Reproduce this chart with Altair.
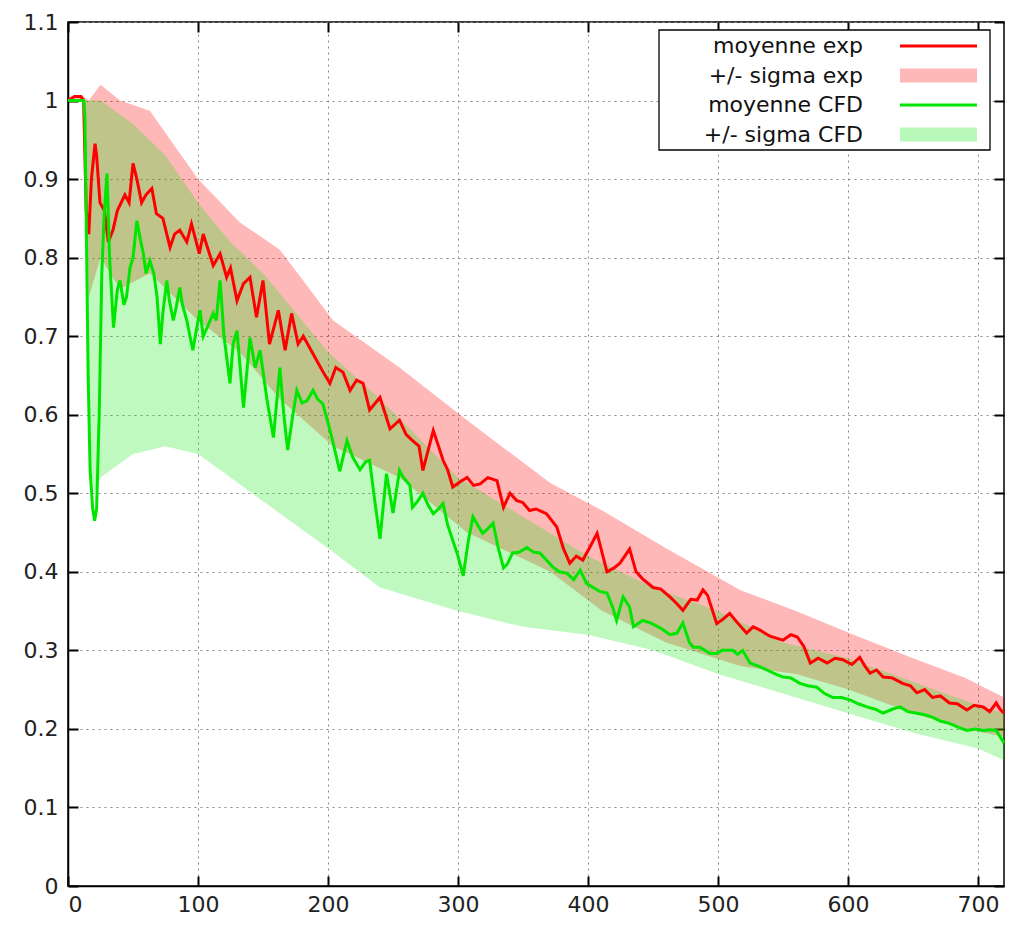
import altair as alt
import pandas as pd

# ---------------- data ----------------
exp_x = [0, 5, 10, 12, 14, 16, 18, 20.8, 22, 24.6, 28, 31, 34.6, 38, 43.8, 47, 50, 53, 56.6, 60,
         64.5, 68, 73, 78.5, 82, 86, 91.4, 95, 101, 104, 111.7, 117, 122, 125, 130, 135, 140, 145,
         150, 155, 161.8, 167, 172, 177, 181, 186, 191, 196, 201.5, 206, 211.5, 217, 222, 227, 232,
         240, 247.7, 255, 260, 265, 270, 273, 281, 285, 288.5, 292, 296, 302, 307, 312, 317, 323,
         330, 335, 340, 345, 350, 355, 360, 368, 376, 381, 386, 391, 396, 401, 407, 414.6, 420,
         424.6, 432, 437, 442, 450, 456, 463, 468, 473, 479, 484, 488.5, 492, 499, 504, 509, 515,
         522, 527, 532, 540, 550, 556, 561, 566, 571, 577, 584, 590, 596, 603, 609, 613, 617, 622,
         627, 634, 642, 648, 653, 659, 665, 671, 678, 684, 691.5, 697, 704, 709, 714, 717, 720]
exp_mean = [1.0, 1.005, 1.005, 1.0, 0.86, 0.83, 0.90, 0.945, 0.93, 0.87, 0.86, 0.82, 0.835, 0.86,
            0.88, 0.87, 0.92, 0.90, 0.87, 0.88, 0.888, 0.856, 0.85, 0.813, 0.83, 0.835, 0.82, 0.843,
            0.805, 0.83, 0.79, 0.805, 0.775, 0.787, 0.745, 0.767, 0.775, 0.724, 0.771, 0.69, 0.733,
            0.682, 0.729, 0.69, 0.70, 0.685, 0.67, 0.655, 0.64, 0.66, 0.654, 0.631, 0.644, 0.64,
            0.606, 0.622, 0.582, 0.593, 0.575, 0.567, 0.56, 0.529, 0.58, 0.56, 0.542, 0.53, 0.508,
            0.515, 0.52, 0.51, 0.512, 0.52, 0.516, 0.482, 0.50, 0.491, 0.488, 0.478, 0.48, 0.474,
            0.457, 0.43, 0.411, 0.42, 0.415, 0.43, 0.449, 0.40, 0.405, 0.411, 0.429, 0.40, 0.391,
            0.38, 0.378, 0.368, 0.36, 0.351, 0.365, 0.364, 0.377, 0.37, 0.334, 0.34, 0.347, 0.335,
            0.322, 0.33, 0.326, 0.318, 0.313, 0.32, 0.317, 0.305, 0.284, 0.29, 0.284, 0.29, 0.288,
            0.282, 0.291, 0.28, 0.271, 0.275, 0.266, 0.265, 0.258, 0.255, 0.246, 0.25, 0.24, 0.242,
            0.233, 0.232, 0.224, 0.23, 0.228, 0.222, 0.233, 0.225, 0.22]

cfd_x = [0, 12, 13, 14, 15.5, 17, 19, 20.5, 22, 24, 26, 28, 30, 32, 35, 38, 40, 43, 45, 47.7, 50,
         53, 56, 58, 60, 63, 66, 68.5, 71, 73, 76, 78, 81, 83, 86, 88, 91.4, 96, 99, 101.5, 104,
         107, 111.7, 114, 117, 120, 124.6, 127, 130, 135, 140, 144, 147.7, 153, 158, 163, 166, 169,
         173, 176, 180, 184, 188.5, 192, 196, 200, 204, 209, 214.6, 219, 224.6, 229, 232, 236, 240,
         245, 250, 255, 258, 263, 265, 269, 273, 277, 281, 285, 288.5, 292, 296, 300, 304, 308,
         311.5, 315, 319, 323, 327, 331, 335, 338, 342, 347, 353, 358, 363, 368, 373, 378, 384,
         389, 394, 399, 404, 409, 414.6, 419, 422, 427, 432, 435, 442, 448, 454, 458, 463, 468.5,
         473, 478, 481, 486, 490, 494, 499, 503, 507, 511.5, 515, 519, 524.6, 531, 537.7, 544, 550,
         556, 563, 569, 576, 582, 588.5, 595, 601.5, 608, 614.6, 621, 627, 634, 640, 646, 653, 659,
         665, 671, 678, 685, 691.5, 698, 704, 709, 714, 717, 720]
cfd_mean = [1.0, 1.0, 0.98, 0.85, 0.65, 0.53, 0.48, 0.465, 0.48, 0.60, 0.78, 0.86, 0.907, 0.80,
            0.711, 0.76, 0.771, 0.74, 0.75, 0.787, 0.80, 0.847, 0.82, 0.805, 0.78, 0.796, 0.78,
            0.75, 0.69, 0.73, 0.771, 0.745, 0.72, 0.735, 0.762, 0.74, 0.72, 0.682, 0.71, 0.733,
            0.70, 0.711, 0.729, 0.72, 0.771, 0.70, 0.64, 0.69, 0.707, 0.609, 0.698, 0.66, 0.682,
            0.62, 0.571, 0.66, 0.60, 0.555, 0.60, 0.631, 0.615, 0.618, 0.631, 0.62, 0.614, 0.59,
            0.564, 0.528, 0.567, 0.546, 0.53, 0.54, 0.542, 0.49, 0.442, 0.525, 0.475, 0.529, 0.52,
            0.51, 0.482, 0.49, 0.50, 0.485, 0.474, 0.48, 0.487, 0.46, 0.44, 0.42, 0.395, 0.44, 0.47,
            0.46, 0.449, 0.455, 0.462, 0.43, 0.405, 0.41, 0.424, 0.425, 0.431, 0.425, 0.424, 0.415,
            0.406, 0.40, 0.398, 0.39, 0.402, 0.385, 0.38, 0.375, 0.373, 0.355, 0.338, 0.368, 0.355,
            0.33, 0.338, 0.335, 0.33, 0.326, 0.32, 0.322, 0.335, 0.31, 0.304, 0.304, 0.30, 0.296,
            0.296, 0.30, 0.30, 0.30, 0.295, 0.30, 0.284, 0.28, 0.275, 0.27, 0.266, 0.265, 0.258,
            0.255, 0.253, 0.245, 0.24, 0.24, 0.237, 0.232, 0.228, 0.225, 0.22, 0.225, 0.228, 0.222,
            0.22, 0.218, 0.215, 0.21, 0.207, 0.202, 0.198, 0.20, 0.198, 0.199, 0.198, 0.19, 0.182]

exp_band_x = [0, 12, 16, 25, 40, 63, 100, 132, 163, 204, 255, 307, 371, 411, 460, 517, 560, 601,
              650, 690, 720]
exp_band_hi = [1.005, 1.005, 1.0, 1.02, 1.0, 0.987, 0.90, 0.845, 0.81, 0.72, 0.66, 0.593, 0.513,
               0.478, 0.43, 0.377, 0.35, 0.322, 0.29, 0.265, 0.24]
exp_band_lo = [1.005, 1.0, 0.75, 0.80, 0.76, 0.78, 0.72, 0.68, 0.62, 0.56, 0.52, 0.45, 0.40, 0.35,
               0.31, 0.28, 0.27, 0.25, 0.22, 0.20, 0.19]

cfd_band_x = [0, 12, 16, 20, 25, 50, 75, 100, 125, 150, 175, 200, 240, 300, 350, 400, 450, 500,
              550, 600, 650, 700, 720]
cfd_band_hi = [1.0, 1.0, 1.0, 1.0, 1.0, 0.97, 0.93, 0.87, 0.82, 0.78, 0.73, 0.68, 0.62, 0.52,
               0.47, 0.42, 0.38, 0.35, 0.31, 0.29, 0.26, 0.23, 0.22]
cfd_band_lo = [1.0, 1.0, 0.55, 0.50, 0.52, 0.55, 0.56, 0.55, 0.52, 0.49, 0.46, 0.43, 0.38, 0.35,
               0.33, 0.32, 0.30, 0.27, 0.245, 0.22, 0.195, 0.175, 0.16]

legend_labels = ["moyenne exp", "+/- sigma exp", "moyenne CFD", "+/- sigma CFD"]
legend_kind = ["line", "band", "line", "band"]
x_ticks = [0, 100, 200, 300, 400, 500, 600, 700]
y_ticks = [0, 0.1, 0.2, 0.3, 0.4, 0.5, 0.6, 0.7, 0.8, 0.9, 1.0, 1.1]

# ---------------- styling ----------------
RED = "#ff0000"
GREEN = "#00e600"
FONT = "DejaVu Sans"
FS = 22
W, H = 936, 864

df_exp = pd.DataFrame({"x": exp_x, "y": exp_mean})
df_cfd = pd.DataFrame({"x": cfd_x, "y": cfd_mean})
df_exp_band = pd.DataFrame({"x": exp_band_x, "lo": exp_band_lo, "hi": exp_band_hi})
df_cfd_band = pd.DataFrame({"x": cfd_band_x, "lo": cfd_band_lo, "hi": cfd_band_hi})
df_leg = pd.DataFrame({"label": legend_labels, "kind": legend_kind, "i": list(range(len(legend_labels)))})

xs = alt.Scale(domain=[0, 720], nice=False, zero=False)
ys = alt.Scale(domain=[0, 1.1], nice=False, zero=False)

grid_common = dict(grid=True, gridDash=[2, 4], gridColor="#8a8a8a", gridWidth=1)

ax_x_main = alt.Axis(values=x_ticks, format="d", ticks=False, domain=True, domainColor="black",
                     domainWidth=1.5, labelFont=FONT, labelFontSize=FS, labelColor="#222222",
                     labelPadding=8, title=None, **grid_common)
ax_y_main = alt.Axis(values=y_ticks, format=".1~f", ticks=False, domain=True, domainColor="black",
                     domainWidth=1.5, labelFont=FONT, labelFontSize=FS, labelColor="#222222",
                     labelPadding=10, title=None, **grid_common)


def tick_axis(orient, values):
    return alt.Axis(orient=orient, values=values, ticks=True, labels=False, domain=False,
                    grid=False, title=None, tickColor="black", tickWidth=2, tickSize=10,
                    offset=-10)


band_exp = alt.Chart(df_exp_band).mark_area(color=RED, opacity=0.28).encode(
    x=alt.X("x:Q", scale=xs, axis=ax_x_main),
    y=alt.Y("lo:Q", scale=ys, axis=ax_y_main),
    y2="hi:Q",
)
band_cfd = alt.Chart(df_cfd_band).mark_area(color=GREEN, opacity=0.25).encode(
    x=alt.X("x:Q", scale=xs, axis=tick_axis("bottom", x_ticks)),
    y=alt.Y("lo:Q", scale=ys, axis=tick_axis("left", y_ticks)),
    y2="hi:Q",
)
line_exp = alt.Chart(df_exp).mark_line(color=RED, strokeWidth=3).encode(
    x=alt.X("x:Q", scale=xs, axis=tick_axis("top", x_ticks)),
    y=alt.Y("y:Q", scale=ys, axis=tick_axis("right", y_ticks)),
)
line_cfd = alt.Chart(df_cfd).mark_line(color=GREEN, strokeWidth=3).encode(
    x=alt.X("x:Q", scale=xs, axis=None),
    y=alt.Y("y:Q", scale=ys, axis=None),
)

# ---------------- legend (drawn inside the plot, top right) ----------------
leg_color = alt.Color("label:N", scale=alt.Scale(domain=legend_labels, range=[RED, RED, GREEN, GREEN]),
                      legend=None)
leg_base = alt.Chart(df_leg).transform_calculate(
    py="24 + 29.5 * datum.i", py0="24 + 29.5 * datum.i - 7", py1="24 + 29.5 * datum.i + 7"
)
leg_box = alt.Chart(pd.DataFrame({"k": [0]})).mark_rect(
    fill="white", stroke="black", strokeWidth=1.3
).encode(x=alt.value(591), x2=alt.value(922), y=alt.value(8), y2=alt.value(128))
leg_text = leg_base.mark_text(align="right", baseline="middle", font=FONT, fontSize=FS,
                              color="#111111").encode(
    x=alt.value(795), y=alt.Y("py:Q", scale=None, axis=None), text="label:N")
leg_lines = leg_base.transform_filter("datum.kind == 'line'").mark_rule(strokeWidth=3).encode(
    x=alt.value(832), x2=alt.value(909), y=alt.Y("py:Q", scale=None, axis=None), color=leg_color)
leg_bands = leg_base.transform_filter("datum.kind == 'band'").mark_rect(opacity=0.28).encode(
    x=alt.value(832), x2=alt.value(909), y=alt.Y("py0:Q", scale=None, axis=None), y2="py1:Q",
    color=leg_color)

chart = alt.layer(
    band_exp, band_cfd, line_exp, line_cfd, leg_box, leg_text, leg_lines, leg_bands
).resolve_scale(
    x="independent", y="independent", color="independent"
).resolve_axis(
    x="independent", y="independent"
).properties(
    width=W, height=H,
    padding={"left": 68, "top": 22, "right": 5, "bottom": 43},
    autosize=alt.AutoSizeParams(type="none"),
    background="white",
).configure_view(
    stroke="black", strokeWidth=1.5
)

chart.save("out.html", embed_options={"renderer": "svg", "actions": False})
